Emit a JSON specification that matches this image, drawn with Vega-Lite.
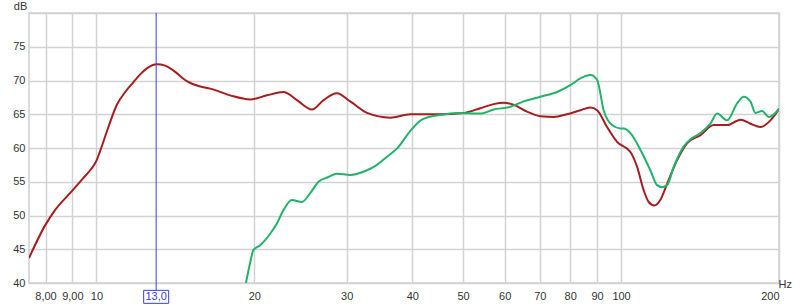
{
  "$schema": "https://vega.github.io/schema/vega-lite/v6.json",
  "width": 750,
  "height": 270,
  "autosize": {"type": "none"},
  "padding": {"left": 29, "top": 13, "right": 21, "bottom": 22},
  "background": "white",
  "config": {
    "view": {"stroke": "#cfcfcf", "strokeWidth": 1.5},
    "font": "Liberation Sans",
    "axis": {"labelFont": "Liberation Sans", "titleFont": "Liberation Sans", "labelFontSize": 11, "labelColor": "#333333", "titleColor": "#333333", "gridColor": "#d2d2d2", "gridWidth": 1.5, "ticks": false, "domain": false, "labelOverlap": false}
  },
  "datasets": {
    "curves": [
      {"series": "red", "f": 7.44, "db": 43.7},
      {"series": "red", "f": 7.98, "db": 48.5},
      {"series": "red", "f": 8.34, "db": 50.8},
      {"series": "red", "f": 8.98, "db": 53.6},
      {"series": "red", "f": 9.43, "db": 55.5},
      {"series": "red", "f": 9.73, "db": 56.7},
      {"series": "red", "f": 10.0, "db": 58.1},
      {"series": "red", "f": 10.16, "db": 59.5},
      {"series": "red", "f": 10.53, "db": 63.0},
      {"series": "red", "f": 10.94, "db": 66.4},
      {"series": "red", "f": 11.35, "db": 68.3},
      {"series": "red", "f": 11.75, "db": 69.7},
      {"series": "red", "f": 12.12, "db": 70.9},
      {"series": "red", "f": 12.48, "db": 71.8},
      {"series": "red", "f": 13.04, "db": 72.4},
      {"series": "red", "f": 13.52, "db": 72.2},
      {"series": "red", "f": 14.01, "db": 71.5},
      {"series": "red", "f": 14.87, "db": 69.9},
      {"series": "red", "f": 15.77, "db": 69.1},
      {"series": "red", "f": 16.48, "db": 68.8},
      {"series": "red", "f": 17.99, "db": 67.8},
      {"series": "red", "f": 19.64, "db": 67.2},
      {"series": "red", "f": 21.13, "db": 67.8},
      {"series": "red", "f": 22.73, "db": 68.3},
      {"series": "red", "f": 24.11, "db": 67.1},
      {"series": "red", "f": 25.75, "db": 65.7},
      {"series": "red", "f": 27.1, "db": 67.1},
      {"series": "red", "f": 28.73, "db": 68.1},
      {"series": "red", "f": 30.46, "db": 66.9},
      {"series": "red", "f": 32.79, "db": 65.2},
      {"series": "red", "f": 36.31, "db": 64.5},
      {"series": "red", "f": 39.64, "db": 65.0},
      {"series": "red", "f": 45.23, "db": 65.0},
      {"series": "red", "f": 50.1, "db": 65.2},
      {"series": "red", "f": 53.92, "db": 65.9},
      {"series": "red", "f": 57.17, "db": 66.5},
      {"series": "red", "f": 59.73, "db": 66.7},
      {"series": "red", "f": 62.42, "db": 66.4},
      {"series": "red", "f": 66.19, "db": 65.4},
      {"series": "red", "f": 70.19, "db": 64.7},
      {"series": "red", "f": 74.4, "db": 64.6},
      {"series": "red", "f": 78.89, "db": 65.0},
      {"series": "red", "f": 83.63, "db": 65.6},
      {"series": "red", "f": 87.39, "db": 66.0},
      {"series": "red", "f": 90.03, "db": 65.6},
      {"series": "red", "f": 94.04, "db": 63.1},
      {"series": "red", "f": 98.26, "db": 60.9},
      {"series": "red", "f": 104.2, "db": 59.4},
      {"series": "red", "f": 107.3, "db": 57.2},
      {"series": "red", "f": 110.4, "db": 53.8},
      {"series": "red", "f": 112.9, "db": 52.0},
      {"series": "red", "f": 115.7, "db": 51.5},
      {"series": "red", "f": 118.8, "db": 52.3},
      {"series": "red", "f": 122.4, "db": 54.7},
      {"series": "red", "f": 127.9, "db": 58.2},
      {"series": "red", "f": 133.6, "db": 60.7},
      {"series": "red", "f": 141.7, "db": 61.9},
      {"series": "red", "f": 150.2, "db": 63.4},
      {"series": "red", "f": 159.3, "db": 63.4},
      {"series": "red", "f": 168.9, "db": 64.2},
      {"series": "red", "f": 176.4, "db": 63.6},
      {"series": "red", "f": 184.4, "db": 63.1},
      {"series": "red", "f": 192.6, "db": 64.1},
      {"series": "red", "f": 200.0, "db": 65.8},
      {"series": "green", "f": 19.28, "db": 40.0},
      {"series": "green", "f": 19.56, "db": 42.4},
      {"series": "green", "f": 19.93, "db": 44.9},
      {"series": "green", "f": 20.52, "db": 45.6},
      {"series": "green", "f": 21.44, "db": 47.3},
      {"series": "green", "f": 22.08, "db": 48.8},
      {"series": "green", "f": 22.73, "db": 50.8},
      {"series": "green", "f": 23.59, "db": 52.3},
      {"series": "green", "f": 24.64, "db": 52.0},
      {"series": "green", "f": 25.56, "db": 53.3},
      {"series": "green", "f": 26.51, "db": 55.0},
      {"series": "green", "f": 27.7, "db": 55.7},
      {"series": "green", "f": 28.73, "db": 56.2},
      {"series": "green", "f": 30.46, "db": 56.0},
      {"series": "green", "f": 32.79, "db": 56.7},
      {"series": "green", "f": 34.26, "db": 57.5},
      {"series": "green", "f": 35.79, "db": 58.7},
      {"series": "green", "f": 37.39, "db": 59.9},
      {"series": "green", "f": 39.64, "db": 62.5},
      {"series": "green", "f": 41.73, "db": 64.2},
      {"series": "green", "f": 45.23, "db": 64.9},
      {"series": "green", "f": 48.67, "db": 65.2},
      {"series": "green", "f": 53.92, "db": 65.1},
      {"series": "green", "f": 57.17, "db": 65.7},
      {"series": "green", "f": 61.52, "db": 66.1},
      {"series": "green", "f": 65.22, "db": 66.9},
      {"series": "green", "f": 70.19, "db": 67.6},
      {"series": "green", "f": 75.51, "db": 68.3},
      {"series": "green", "f": 80.05, "db": 69.3},
      {"series": "green", "f": 83.63, "db": 70.3},
      {"series": "green", "f": 87.39, "db": 70.8},
      {"series": "green", "f": 90.03, "db": 70.1},
      {"series": "green", "f": 92.63, "db": 65.6},
      {"series": "green", "f": 96.12, "db": 63.4},
      {"series": "green", "f": 99.7, "db": 62.9},
      {"series": "green", "f": 101.2, "db": 62.9},
      {"series": "green", "f": 104.2, "db": 62.2},
      {"series": "green", "f": 108.9, "db": 59.7},
      {"series": "green", "f": 113.7, "db": 56.7},
      {"series": "green", "f": 117.1, "db": 54.5},
      {"series": "green", "f": 119.7, "db": 54.2},
      {"series": "green", "f": 122.4, "db": 54.5},
      {"series": "green", "f": 126.0, "db": 57.2},
      {"series": "green", "f": 131.6, "db": 60.2},
      {"series": "green", "f": 135.6, "db": 61.3},
      {"series": "green", "f": 141.7, "db": 62.2},
      {"series": "green", "f": 148.0, "db": 63.6},
      {"series": "green", "f": 152.4, "db": 65.1},
      {"series": "green", "f": 159.3, "db": 64.1},
      {"series": "green", "f": 166.4, "db": 66.6},
      {"series": "green", "f": 171.3, "db": 67.6},
      {"series": "green", "f": 176.4, "db": 66.9},
      {"series": "green", "f": 180.4, "db": 65.2},
      {"series": "green", "f": 185.7, "db": 65.5},
      {"series": "green", "f": 191.2, "db": 64.6},
      {"series": "green", "f": 200.0, "db": 65.8}
    ],
    "cursor": [{"f": 13, "label": "13,0"}]
  },
  "layer": [
    {
      "data": {"name": "curves"},
      "mark": {"type": "line", "interpolate": "monotone", "strokeWidth": 2, "clip": true},
      "encoding": {
        "x": {
          "field": "f", "type": "quantitative",
          "scale": {"type": "log", "domain": [7.44, 200], "nice": false, "zero": false},
          "axis": {
            "values": [8, 9, 10, 20, 30, 40, 50, 60, 70, 80, 90, 100, 200],
            "labelExpr": "datum.value < 10 ? replace(format(datum.value, '.2f'), '.', ',') : format(datum.value, 'd')",
            "labelPadding": 7,
            "title": "Hz",
            "titleFontSize": 11,
            "titleFontWeight": "normal",
            "titleAnchor": "end",
            "titleAlign": "left",
            "titleBaseline": "middle",
            "titleX": 749,
            "titleY": 1
          }
        },
        "y": {
          "field": "db", "type": "quantitative",
          "scale": {"domain": [40, 80], "nice": false, "zero": false},
          "axis": {
            "tickCount": 8,
            "labelExpr": "datum.value == 80 ? '' : format(datum.value, 'd')",
            "labelOverlap": false,
            "labelPadding": 4,
            "title": "dB",
            "titleAngle": 0,
            "titleFontSize": 11,
            "titleFontWeight": "normal",
            "titleAlign": "center",
            "titleBaseline": "alphabetic",
            "titleX": -9,
            "titleY": -4
          }
        },
        "color": {
          "field": "series", "type": "nominal",
          "scale": {"domain": ["green", "red"], "range": ["#22b36a", "#a61d1d"]},
          "legend": null
        },
        "order": {"field": "series", "sort": "ascending"}
      }
    },
    {
      "data": {"name": "cursor"},
      "mark": {"type": "rule", "color": "#3c3cdd", "strokeWidth": 1},
      "encoding": {
        "x": {"field": "f", "type": "quantitative"},
        "y": {"datum": 80},
        "y2": {"datum": 38.85}
      }
    },
    {
      "data": {"name": "cursor"},
      "mark": {"type": "point", "shape": "M-1,-0.52L1,-0.52L1,0.52L-1,0.52Z", "size": 625, "filled": true, "fill": "white", "stroke": "#3c3cdd", "strokeWidth": 1, "opacity": 1},
      "encoding": {
        "x": {"field": "f", "type": "quantitative"},
        "y": {"datum": 37.95}
      }
    },
    {
      "data": {"name": "cursor"},
      "mark": {"type": "text", "color": "#3c3cdd", "fontSize": 11, "font": "Liberation Sans", "baseline": "middle", "align": "center"},
      "encoding": {
        "x": {"field": "f", "type": "quantitative"},
        "y": {"datum": 37.95},
        "text": {"field": "label"}
      }
    }
  ]
}
